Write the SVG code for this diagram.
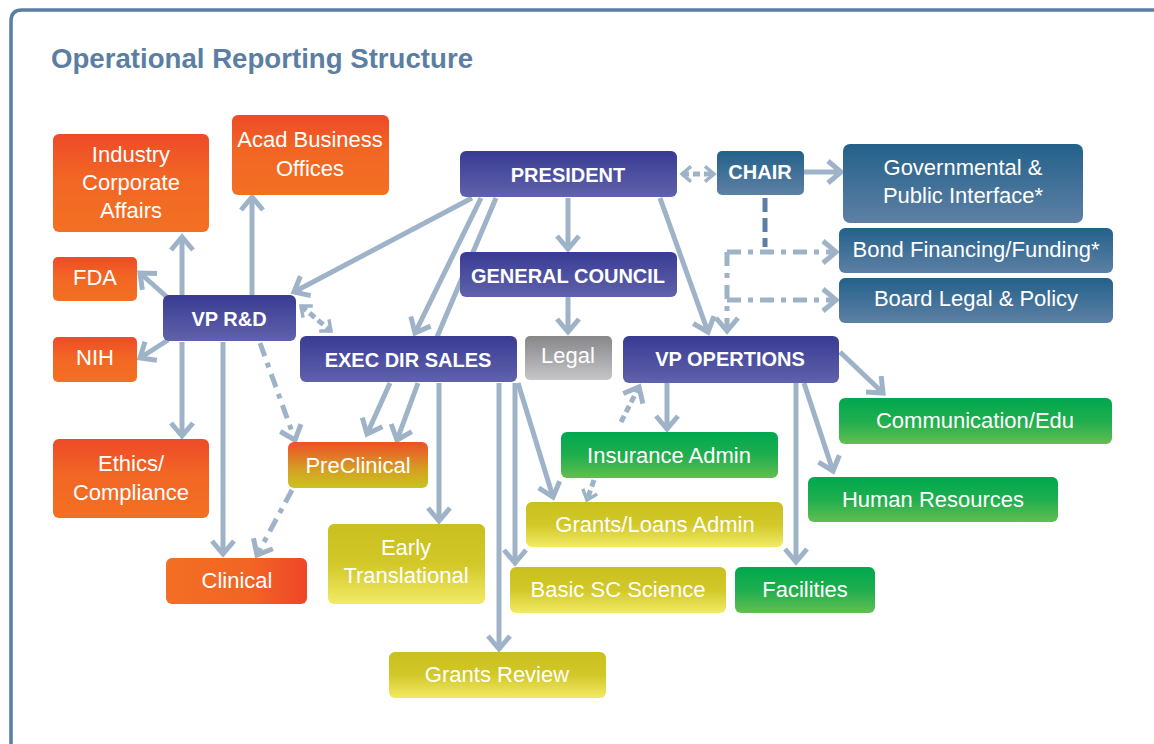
<svg xmlns="http://www.w3.org/2000/svg" width="1154" height="744" viewBox="0 0 1154 744">
<defs>
<style>
.t{font-family:"Liberation Sans",Arial,sans-serif;font-size:22px;fill:#fff;text-anchor:middle}
.b{font-family:"Liberation Sans",Arial,sans-serif;font-size:20px;font-weight:bold;fill:#fff;text-anchor:middle}
.c{fill:none;stroke:#9fb3c8;stroke-width:5}
.d{stroke-dasharray:14 7 5 7}
.s{stroke-dasharray:7 4}
</style>
<linearGradient id="gP" x1="0" y1="0" x2="0" y2="1"><stop offset="0" stop-color="#393b94"/><stop offset="1" stop-color="#6062ab"/></linearGradient>
<linearGradient id="gO" x1="0" y1="0" x2="0" y2="1"><stop offset="0" stop-color="#ee4a28"/><stop offset="0.45" stop-color="#f26624"/><stop offset="1" stop-color="#f37023"/></linearGradient>
<linearGradient id="gB" x1="0" y1="0" x2="0" y2="1"><stop offset="0" stop-color="#23618a"/><stop offset="1" stop-color="#5e80a5"/></linearGradient>
<linearGradient id="gG" x1="0" y1="0" x2="0" y2="1"><stop offset="0" stop-color="#00a84f"/><stop offset="0.5" stop-color="#1fae4e"/><stop offset="1" stop-color="#62be50"/></linearGradient>
<linearGradient id="gY" x1="0" y1="0" x2="0" y2="1"><stop offset="0" stop-color="#c9bf1e"/><stop offset="0.5" stop-color="#d2c829"/><stop offset="1" stop-color="#f2ea66"/></linearGradient>
<linearGradient id="gR" x1="0" y1="0" x2="0" y2="1"><stop offset="0" stop-color="#87878a"/><stop offset="1" stop-color="#c6c6c8"/></linearGradient>
<linearGradient id="gPC" x1="0" y1="0" x2="0" y2="1"><stop offset="0" stop-color="#ee4f27"/><stop offset="0.6" stop-color="#d69f22"/><stop offset="1" stop-color="#c9c31f"/></linearGradient>
<linearGradient id="gC" x1="0" y1="0" x2="1" y2="0"><stop offset="0" stop-color="#f36f24"/><stop offset="0.6" stop-color="#f26424"/><stop offset="1" stop-color="#ee4628"/></linearGradient>
<marker id="ah" markerUnits="userSpaceOnUse" viewBox="0 0 20 26" markerWidth="20" markerHeight="26" refX="16" refY="13" orient="auto-start-reverse">
<path d="M3,2 L16,13 L3,24" fill="none" stroke="#9fb3c8" stroke-width="5"/>
</marker>
<marker id="as" markerUnits="userSpaceOnUse" viewBox="0 0 20 26" markerWidth="14" markerHeight="18" refX="16" refY="13" orient="auto-start-reverse">
<path d="M3,2 L16,13 L3,24" fill="none" stroke="#9fb3c8" stroke-width="5"/>
</marker>
</defs>
<rect width="1154" height="744" fill="#fff"/>
<path d="M11,744 V21 Q11,10 22,10 H1154" fill="none" stroke="#5b7ea3" stroke-width="3.5"/>
<text x="51" y="68" textLength="422" lengthAdjust="spacingAndGlyphs" style="font-family:'Liberation Sans',Arial,sans-serif;font-size:27.5px;font-weight:bold;fill:#5b7ea3">Operational Reporting Structure</text>

<g id="connectors">
<path class="c" d="M472,198 L294,292" marker-end="url(#ah)"/>
<path class="c" d="M481,198 L415,333" marker-end="url(#ah)"/>
<path class="c" d="M496,198 L437,337"/>
<path class="c" d="M568,198 L568,249" marker-end="url(#ah)"/>
<path class="c" d="M568,297 L568,332" marker-end="url(#ah)"/>
<path class="c" d="M660,198 L708,332" marker-end="url(#ah)"/>
<path class="c" d="M804,172 L841,172" marker-end="url(#ah)"/>
<path class="c" d="M182,295 L182,237" marker-end="url(#ah)"/>
<path class="c" d="M252,295 L252,197" marker-end="url(#ah)"/>
<path class="c" d="M168,298 L140,273" marker-end="url(#ah)"/>
<path class="c" d="M168,340 L140,358" marker-end="url(#ah)"/>
<path class="c" d="M182,342 L182,436" marker-end="url(#ah)"/>
<path class="c" d="M223,342 L223,554" marker-end="url(#ah)"/>
<path class="c" d="M390,383 L367,434" marker-end="url(#ah)"/>
<path class="c" d="M418,383 L397,440" marker-end="url(#ah)"/>
<path class="c" d="M439,383 L439,521" marker-end="url(#ah)"/>
<path class="c" d="M499,383 L499,649" marker-end="url(#ah)"/>
<path class="c" d="M515,383 L515,563" marker-end="url(#ah)"/>
<path class="c" d="M518,383 L553,497" marker-end="url(#ah)"/>
<path class="c" d="M667,383 L667,429" marker-end="url(#ah)"/>
<path class="c" d="M840,352 L883,393" marker-end="url(#ah)"/>
<path class="c" d="M804,383 L833,471" marker-end="url(#ah)"/>
<path class="c" d="M796,383 L796,562" marker-end="url(#ah)"/>
<path class="c s" d="M682,174 L714,174" marker-start="url(#as)" marker-end="url(#as)"/>
<path class="c" d="M765,198 L765,247" style="stroke:#5b7ea3;stroke-dasharray:14 6"/>
<path class="c d" d="M727,252 L836,252" marker-end="url(#ah)"/>
<path class="c d" d="M727,252 L727,331" marker-end="url(#ah)"/>
<path class="c d" d="M727,300 L836,300" marker-end="url(#ah)"/>
<path class="c d" d="M260,343 L295,440" marker-end="url(#ah)"/>
<path class="c d" d="M292,490 L257,555" marker-end="url(#ah)"/>
<path class="c s" d="M621,422 L639,387" marker-end="url(#ah)"/>
<path class="c s" d="M594,480 L587,500" marker-end="url(#as)"/>
<path class="c s" d="M301,306 L331,331" marker-start="url(#as)" marker-end="url(#as)"/>
</g>

<g id="industry"><rect x="53" y="134" width="156" height="98" rx="6" fill="url(#gO)"/><text class="t" x="131" y="162">Industry</text><text class="t" x="131" y="190">Corporate</text><text class="t" x="131" y="218">Affairs</text></g>
<g id="acad"><rect x="232" y="115" width="157" height="80" rx="6" fill="url(#gO)"/><text class="t" x="310" y="147">Acad Business</text><text class="t" x="310" y="176">Offices</text></g>
<g id="fda"><rect x="53" y="257" width="84" height="44" rx="5" fill="url(#gO)"/><text class="t" x="95" y="285">FDA</text></g>
<g id="nih"><rect x="53" y="337" width="84" height="45" rx="5" fill="url(#gO)"/><text class="t" x="95" y="365">NIH</text></g>
<g id="ethics"><rect x="53" y="439" width="156" height="79" rx="6" fill="url(#gO)"/><text class="t" x="131" y="471">Ethics/</text><text class="t" x="131" y="500">Compliance</text></g>
<g id="vprd"><rect x="163" y="295" width="133" height="46" rx="6" fill="url(#gP)"/><text class="b" x="229" y="326">VP R&amp;D</text></g>
<g id="president"><rect x="460" y="151" width="217" height="46" rx="6" fill="url(#gP)"/><text class="b" x="568" y="182">PRESIDENT</text></g>
<g id="chair"><rect x="717" y="151" width="87" height="44" rx="5" fill="url(#gB)"/><text class="b" x="760" y="179">CHAIR</text></g>
<g id="gov"><rect x="843" y="144" width="240" height="79" rx="7" fill="url(#gB)"/><text class="t" x="963" y="175">Governmental &amp;</text><text class="t" x="963" y="203">Public Interface*</text></g>
<g id="bond"><rect x="839" y="228" width="274" height="45" rx="6" fill="url(#gB)"/><text class="t" x="976" y="257">Bond Financing/Funding*</text></g>
<g id="board"><rect x="839" y="278" width="274" height="45" rx="6" fill="url(#gB)"/><text class="t" x="976" y="306">Board Legal &amp; Policy</text></g>
<g id="gc"><rect x="460" y="252" width="217" height="45" rx="6" fill="url(#gP)"/><text class="b" x="568" y="283">GENERAL COUNCIL</text></g>
<g id="exec"><rect x="300" y="336" width="217" height="46" rx="6" fill="url(#gP)"/><text class="b" x="408" y="367">EXEC DIR SALES</text></g>
<g id="legal"><rect x="525" y="336" width="87" height="44" rx="5" fill="url(#gR)"/><text class="t" x="568" y="363">Legal</text></g>
<g id="vpops"><rect x="623" y="336" width="216" height="47" rx="6" fill="url(#gP)"/><text class="b" x="730" y="366">VP OPERTIONS</text></g>
<g id="comm"><rect x="839" y="398" width="273" height="46" rx="6" fill="url(#gG)"/><text class="t" x="975" y="428">Communication/Edu</text></g>
<g id="insurance"><rect x="561" y="432" width="217" height="46" rx="6" fill="url(#gG)"/><text class="t" x="669" y="463">Insurance Admin</text></g>
<g id="hr"><rect x="808" y="477" width="250" height="45" rx="6" fill="url(#gG)"/><text class="t" x="933" y="507">Human Resources</text></g>
<g id="preclinical"><rect x="288" y="442" width="140" height="46" rx="6" fill="url(#gPC)"/><text class="t" x="358" y="473">PreClinical</text></g>
<g id="grantsloans"><rect x="526" y="502" width="257" height="45" rx="6" fill="url(#gY)"/><text class="t" x="655" y="532">Grants/Loans Admin</text></g>
<g id="early"><rect x="328" y="524" width="157" height="80" rx="6" fill="url(#gY)"/><text class="t" x="406" y="555">Early</text><text class="t" x="406" y="583">Translational</text></g>
<g id="basic"><rect x="510" y="567" width="216" height="46" rx="6" fill="url(#gY)"/><text class="t" x="618" y="597">Basic SC Science</text></g>
<g id="facilities"><rect x="735" y="567" width="140" height="46" rx="6" fill="url(#gG)"/><text class="t" x="805" y="597">Facilities</text></g>
<g id="clinical"><rect x="166" y="558" width="141" height="46" rx="6" fill="url(#gC)"/><text class="t" x="237" y="588">Clinical</text></g>
<g id="grantsreview"><rect x="389" y="652" width="217" height="46" rx="6" fill="url(#gY)"/><text class="t" x="497" y="682">Grants Review</text></g>
</svg>
